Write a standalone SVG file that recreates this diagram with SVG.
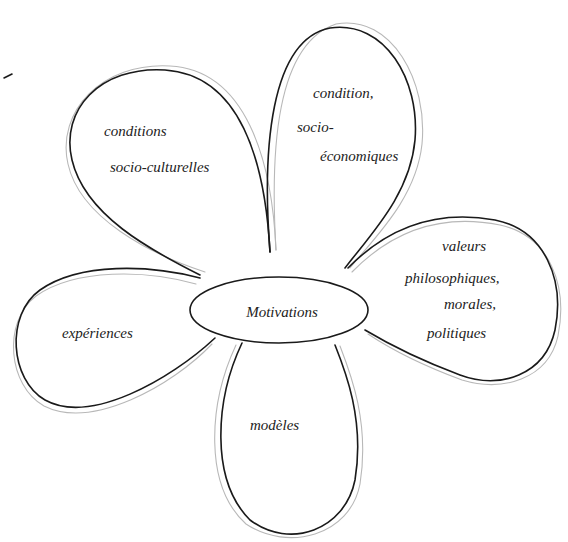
<svg xmlns="http://www.w3.org/2000/svg" width="568" height="542" viewBox="0 0 568 542">
<style>
.ink{fill:none;stroke:#1a1a1a;stroke-width:1.6;stroke-linecap:round;stroke-linejoin:round}
.ghost{fill:none;stroke:#b8b8b8;stroke-width:1.1;stroke-linecap:round}
.t{font-family:"Liberation Serif","DejaVu Serif",serif;font-style:italic;fill:#222;font-size:15px}
</style>
<rect width="568" height="542" fill="#ffffff"/>
<path class="ink" d="M4,78 L12,74" stroke-width="1.2"/>
<g id="petal-socio-culturelles">
<path class="ghost" d="M276,250 C272,160 246,70 170,66 C102,62 56,112 68,164 C80,218 150,254 205,272"/>
<path class="ink" d="M270,252 C265,160 240,75 165,70 C100,66 60,110 72,160 C85,215 150,250 200,275"/>
<text class="t" x="104" y="136">conditions</text>
<text class="t" x="110" y="172">socio-culturelles</text>
</g>
<g id="petal-socio-economiques">
<path class="ghost" d="M276,250 C270,150 276,44 336,24 C392,14 428,82 422,144 C416,200 372,240 350,268"/>
<path class="ink" d="M270,252 C262,150 270,40 330,28 C385,20 420,80 415,140 C410,195 370,235 345,268"/>
<text class="t" x="313" y="98">condition,</text>
<text class="t" x="297" y="132">socio-</text>
<text class="t" x="320" y="161">économiques</text>
</g>
<g id="petal-valeurs">
<path class="ghost" d="M352,272 C395,228 445,214 500,225 C550,236 568,286 558,336 C548,380 502,392 462,380 C424,366 392,350 368,334"/>
<path class="ink" d="M348,268 C390,225 440,210 495,220 C545,230 565,280 555,330 C545,375 500,390 460,375 C420,360 390,345 365,330"/>
<text class="t" x="442" y="251">valeurs</text>
<text class="t" x="405" y="283">philosophiques,</text>
<text class="t" x="444" y="309">morales,</text>
<text class="t" x="427" y="338">politiques</text>
</g>
<g id="petal-modeles">
<path class="ghost" d="M236,345 C208,405 204,486 246,524 C288,552 350,536 360,484 C370,422 350,372 340,346"/>
<path class="ink" d="M242,343 C215,400 210,480 250,520 C290,550 345,530 355,480 C365,420 345,370 335,345"/>
<text class="t" x="250" y="430">modèles</text>
</g>
<g id="petal-experiences">
<path class="ghost" d="M196,284 C146,270 76,268 36,296 C2,322 8,386 44,406 C92,430 172,386 212,344"/>
<path class="ink" d="M200,278 C150,265 80,262 40,290 C5,315 10,380 45,400 C90,425 170,380 215,338"/>
<text class="t" x="62" y="338">expériences</text>
</g>
<g id="motivations">
<ellipse cx="279" cy="310" rx="89" ry="33" fill="#ffffff" class="ink"/>
<text class="t" x="282" y="317" text-anchor="middle" font-size="19">Motivations</text>
</g>
<g id="connectors"></g>
</svg>
